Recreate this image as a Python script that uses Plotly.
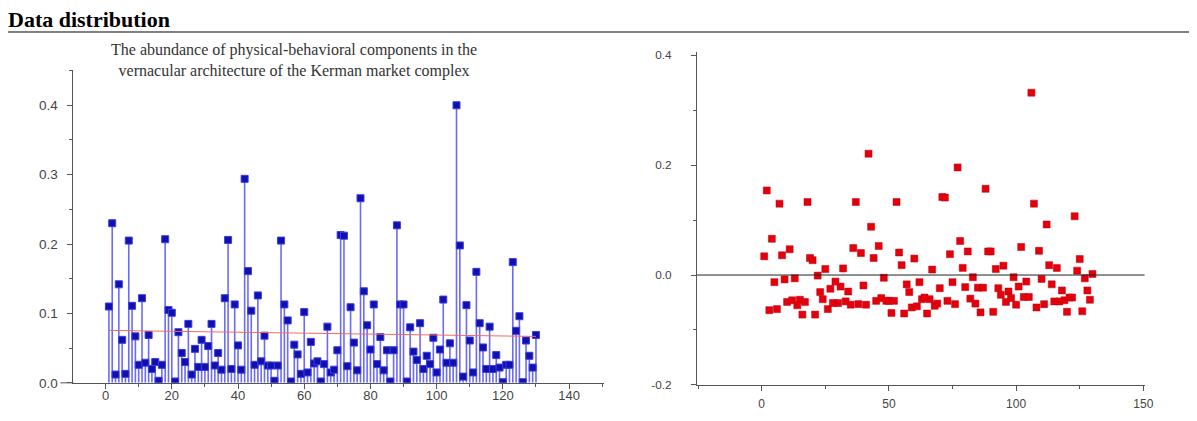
import plotly.graph_objects as go

# ---------------- data ----------------
index = list(range(1, 131))

abundance = [
    0.110, 0.230, 0.012, 0.142, 0.062, 0.013, 0.205, 0.111, 0.067, 0.026,
    0.122, 0.029, 0.069, 0.020, 0.030, 0.003, 0.026, 0.207, 0.105, 0.101,
    0.002, 0.073, 0.043, 0.030, 0.085, 0.012, 0.049, 0.023, 0.062, 0.023,
    0.053, 0.085, 0.025, 0.043, 0.019, 0.122, 0.206, 0.020, 0.113, 0.054,
    0.019, 0.294, 0.161, 0.104, 0.026, 0.126, 0.031, 0.068, 0.025, 0.025,
    0.003, 0.025, 0.205, 0.113, 0.090, 0.002, 0.055, 0.041, 0.013, 0.102,
    0.015, 0.059, 0.028, 0.031, 0.002, 0.027, 0.081, 0.015, 0.019, 0.047,
    0.213, 0.212, 0.024, 0.109, 0.058, 0.018, 0.266, 0.132, 0.083, 0.048,
    0.113, 0.027, 0.066, 0.018, 0.047, 0.002, 0.047, 0.227, 0.113, 0.113,
    0.002, 0.080, 0.045, 0.033, 0.086, 0.020, 0.039, 0.027, 0.065, 0.015,
    0.048, 0.120, 0.029, 0.057, 0.029, 0.400, 0.198, 0.009, 0.112, 0.061,
    0.015, 0.160, 0.086, 0.051, 0.020, 0.081, 0.020, 0.040, 0.022, 0.001,
    0.026, 0.026, 0.174, 0.075, 0.096, 0.001, 0.061, 0.039, 0.022, 0.069,
]

residuals = [
    0.034, 0.154, -0.064, 0.066, -0.013, -0.062, 0.130, 0.036, -0.008, -0.049,
    0.047, -0.046, -0.006, -0.055, -0.045, -0.072, -0.049, 0.133, 0.031, 0.027,
    -0.072, -0.001, -0.031, -0.044, 0.011, -0.062, -0.025, -0.051, -0.012, -0.051,
    -0.021, 0.012, -0.048, -0.030, -0.054, 0.049, 0.133, -0.053, 0.040, -0.019,
    -0.054, 0.221, 0.088, 0.031, -0.047, 0.053, -0.042, -0.005, -0.047, -0.047,
    -0.069, -0.047, 0.133, 0.041, 0.018, -0.070, -0.017, -0.031, -0.059, 0.030,
    -0.057, -0.013, -0.044, -0.041, -0.070, -0.044, 0.010, -0.056, -0.052, -0.024,
    0.142, 0.141, -0.047, 0.038, -0.013, -0.053, 0.196, 0.062, 0.013, -0.022,
    0.043, -0.043, -0.004, -0.052, -0.023, -0.068, -0.023, 0.157, 0.043, 0.043,
    -0.067, 0.011, -0.024, -0.036, 0.017, -0.049, -0.030, -0.042, -0.004, -0.054,
    -0.021, 0.051, -0.040, -0.012, -0.040, 0.332, 0.130, -0.059, 0.044, -0.007,
    -0.053, 0.092, 0.018, -0.017, -0.048, 0.013, -0.048, -0.028, -0.046, -0.067,
    -0.041, -0.041, 0.107, 0.008, 0.029, -0.066, -0.006, -0.028, -0.045, 0.002,
]

trend_x = [1, 130]
trend_y = [0.0756, 0.0669]

left_xticks = [0, 20, 40, 60, 80, 100, 120, 140]
left_xticklabels = ["0", "20", "40", "60", "80", "100", "120", "140"]
left_yticks = [0.0, 0.1, 0.2, 0.3, 0.4]
left_yticklabels = ["0.0", "0.1", "0.2", "0.3", "0.4"]
right_xticks = [0, 50, 100, 150]
right_xticklabels = ["0", "50", "100", "150"]
right_yticks = [-0.2, 0.0, 0.2, 0.4]
right_yticklabels = ["-0.2", "0.0", "0.2", "0.4"]

# ---------------- geometry ----------------
W, H = 1197, 421
# observed placement of the figure in the photographed picture
PX0, PSX = 7.9, 0.9868
PY0, PSY = 14.3, 0.9656


def fx(rx):
    return ((rx - PX0) / PSX) / W


def fy(ry):
    return 1 - ((ry - PY0) / PSY) / H


fig = go.Figure()

fig.add_trace(go.Scatter(
    x=index, y=abundance, mode="markers",
    marker=dict(symbol="square", size=7, color="rgb(16,16,170)",
                line=dict(color="rgb(60,60,235)", width=1)),
    error_y=dict(type="data", symmetric=False, array=[0] * len(abundance),
                 arrayminus=abundance, width=0, thickness=1.6,
                 color="rgba(70,70,250,0.8)"),
    xaxis="x", yaxis="y", showlegend=False,
))
fig.add_trace(go.Scatter(
    x=trend_x, y=trend_y, mode="lines",
    line=dict(color="rgb(240,110,90)", width=1),
    xaxis="x", yaxis="y", showlegend=False,
))
fig.add_trace(go.Scatter(
    x=index, y=residuals, mode="markers",
    marker=dict(symbol="square", size=7, color="rgb(228,0,10)",
                line=dict(color="rgb(190,0,20)", width=0.5)),
    xaxis="x2", yaxis="y2", showlegend=False,
))


def axis(fsize, **kw):
    d = dict(
        showline=True, linecolor="#555", linewidth=1, ticks="outside", ticklen=5,
        tickwidth=1, tickcolor="#555", showgrid=False, zeroline=False,
        tickfont=dict(family="Liberation Sans, Arial, sans-serif", size=fsize, color="#444"),
    )
    d.update(kw)
    return d


def minor(step):
    return dict(ticks="outside", ticklen=3, tickwidth=1, dtick=step, tick0=0, tickcolor="#555")


fig.update_layout(
    width=W, height=H,
    margin=dict(l=0, r=0, t=0, b=0),
    paper_bgcolor="white", plot_bgcolor="white",
    xaxis=axis(13, domain=[fx(73), fx(600)], range=[-9.7, 150.4], anchor="y",
               tickvals=left_xticks, ticktext=left_xticklabels, minor=minor(10),
               ticklabelstandoff=-4),
    yaxis=axis(13.5, domain=[fy(383), fy(73)], range=[0, 0.4505], anchor="x",
               tickvals=left_yticks, ticktext=left_yticklabels, minor=minor(0.05),
               ticklabelstandoff=7),
    xaxis2=axis(12, domain=[fx(693), fx(1138)], range=[-25.4, 150.5], anchor="y2",
                tickvals=right_xticks, ticktext=right_xticklabels, minor=minor(25),
                ticklabelstandoff=3),
    yaxis2=axis(11.8, domain=[fy(385), fy(55)], range=[-0.2, 0.406], anchor="x2",
                tickvals=right_yticks, ticktext=right_yticklabels, minor=minor(0.1),
                ticklabelstandoff=17),
)

# zero reference line of the residual plot
fig.add_shape(type="line", xref="x2 domain", yref="y2", x0=0, x1=1, y0=0, y1=0,
              line=dict(color="#222", width=1))
# x axis of the left plot runs a little past its y axis
fig.add_shape(type="line", xref="paper", yref="paper", x0=fx(60), x1=fx(73),
              y0=fy(383), y1=fy(383), line=dict(color="#555", width=1))

# rule under the heading
fig.add_shape(type="line", xref="paper", yref="paper", x0=0, x1=1,
              y0=fy(35), y1=fy(35), line=dict(color="#808080", width=2))

fig.add_annotation(
    text="<b>Data distribution</b>", xref="paper", yref="paper",
    x=fx(6), y=fy(23), xanchor="left", yanchor="middle", showarrow=False,
    font=dict(family="Liberation Serif, Times New Roman, serif", size=22, color="black"),
)
fig.add_annotation(
    text="The abundance of physical-behavioral components in the<br>"
         "vernacular architecture of the Kerman market complex",
    xref="paper", yref="paper", x=fx(292), y=fy(63),
    xanchor="center", yanchor="middle", showarrow=False, align="center",
    font=dict(family="Liberation Serif, Times New Roman, serif", size=16, color="#333"),
)

fig.write_html("out.html")
